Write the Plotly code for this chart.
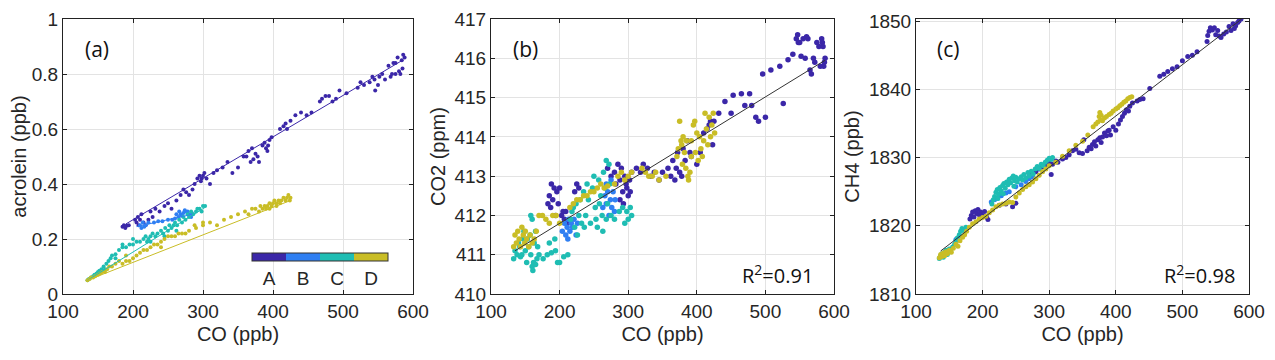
import plotly.graph_objects as go

# group colours (parula-like)
COL = {"A": "#3b27a8", "B": "#2f7ff2", "C": "#1fbdb3", "D": "#c9bd26"}
GROUPS = ["A", "B", "C", "D"]

X_TICKS = [100, 200, 300, 400, 500, 600]

# ---- panel (a): acrolein vs CO, (CO, acrolein) pairs
a_A = [(185, 0.245), (187, 0.25), (189, 0.24), (191, 0.248), (194, 0.25), (203, 0.27), (205, 0.26),
       (207, 0.28), (208, 0.25), (210, 0.27), (212, 0.29), (215, 0.26), (218, 0.25), (222, 0.27),
       (225, 0.3), (228, 0.28), (232, 0.31), (238, 0.3), (245, 0.32), (250, 0.33), (255, 0.31),
       (262, 0.34), (268, 0.36), (272, 0.38), (276, 0.37), (280, 0.36), (285, 0.38), (288, 0.4),
       (292, 0.42), (295, 0.43), (298, 0.42), (300, 0.43), (302, 0.44), (297, 0.41), (305, 0.42),
       (310, 0.4), (315, 0.44), (320, 0.45), (328, 0.46), (335, 0.48), (342, 0.44), (350, 0.46),
       (358, 0.5), (362, 0.5), (365, 0.52), (368, 0.48), (370, 0.53), (372, 0.49), (375, 0.51),
       (378, 0.5), (380, 0.48), (385, 0.54), (388, 0.55), (390, 0.53), (392, 0.52), (395, 0.56),
       (393, 0.54), (398, 0.57), (410, 0.6), (415, 0.61), (418, 0.62), (420, 0.6), (425, 0.63),
       (432, 0.65), (440, 0.66), (448, 0.65), (455, 0.66), (467, 0.7), (470, 0.71), (475, 0.72),
       (480, 0.72), (485, 0.7), (490, 0.71), (495, 0.74), (505, 0.73), (521, 0.75), (525, 0.77),
       (530, 0.76), (538, 0.77), (542, 0.79), (545, 0.78), (546, 0.74), (550, 0.76), (552, 0.79),
       (556, 0.8), (560, 0.78), (565, 0.83), (568, 0.79), (572, 0.84), (575, 0.8), (578, 0.86),
       (580, 0.81), (582, 0.8), (584, 0.85), (586, 0.87), (588, 0.86), (575, 0.84), (570, 0.8),
       (585, 0.82)]
a_B = [(210, 0.25), (212, 0.24), (214, 0.26), (216, 0.245), (218, 0.25), (222, 0.26), (230, 0.26),
       (236, 0.265), (242, 0.265), (250, 0.27), (256, 0.27), (260, 0.275), (265, 0.28), (268, 0.29),
       (272, 0.295), (275, 0.3), (278, 0.3), (280, 0.29), (274, 0.305), (266, 0.3), (262, 0.29),
       (284, 0.295), (283, 0.28), (270, 0.285)]
a_C = [(135, 0.05), (137, 0.055), (140, 0.06), (143, 0.065), (145, 0.07), (148, 0.075), (150, 0.08),
       (152, 0.085), (155, 0.09), (158, 0.1), (160, 0.09), (162, 0.11), (165, 0.12), (168, 0.13),
       (170, 0.14), (175, 0.145), (180, 0.16), (185, 0.17), (190, 0.17), (195, 0.18), (200, 0.18),
       (205, 0.19), (210, 0.19), (215, 0.2), (218, 0.21), (220, 0.19), (222, 0.2), (225, 0.21),
       (228, 0.22), (232, 0.21), (235, 0.22), (240, 0.23), (243, 0.22), (246, 0.24), (250, 0.23),
       (252, 0.25), (255, 0.24), (258, 0.25), (260, 0.26), (263, 0.25), (266, 0.27), (270, 0.26),
       (272, 0.28), (275, 0.27), (278, 0.29), (280, 0.28), (283, 0.3), (286, 0.29), (290, 0.3),
       (295, 0.31), (300, 0.32), (303, 0.32), (298, 0.3), (292, 0.31), (200, 0.2), (185, 0.18),
       (225, 0.19), (245, 0.21), (262, 0.23), (175, 0.13)]
a_D = [(135, 0.05), (138, 0.055), (140, 0.06), (143, 0.06), (146, 0.065), (150, 0.07), (153, 0.075),
       (156, 0.08), (160, 0.08), (163, 0.09), (166, 0.1), (170, 0.1), (175, 0.11), (180, 0.12),
       (185, 0.11), (190, 0.12), (195, 0.12), (200, 0.13), (205, 0.14), (210, 0.15), (215, 0.16),
       (220, 0.16), (225, 0.17), (230, 0.18), (235, 0.18), (240, 0.19), (245, 0.2), (250, 0.21),
       (255, 0.21), (260, 0.21), (265, 0.22), (270, 0.22), (275, 0.22), (280, 0.23), (290, 0.24),
       (300, 0.25), (310, 0.26), (320, 0.25), (330, 0.27), (340, 0.28), (350, 0.29), (360, 0.3),
       (365, 0.29), (370, 0.31), (375, 0.31), (380, 0.3), (382, 0.32), (385, 0.31), (388, 0.32),
       (390, 0.31), (392, 0.32), (395, 0.33), (398, 0.32), (400, 0.33), (402, 0.34), (405, 0.33),
       (408, 0.34), (410, 0.33), (412, 0.34), (415, 0.35), (418, 0.34), (420, 0.35), (422, 0.36),
       (424, 0.34), (425, 0.35), (405, 0.32), (395, 0.31), (300, 0.26), (288, 0.25), (240, 0.17),
       (190, 0.14)]
# per-group fit lines in (a): (co_start, co_end, y_start, y_end)
a_fit = {"A": (190, 585, 0.255, 0.85), "B": (205, 285, 0.245, 0.29),
         "C": (135, 303, 0.05, 0.315), "D": (135, 425, 0.05, 0.34)}

# ---- panel (b): CO2 vs CO
b_A = [(183, 412.3), (185, 412.5), (187, 412.2), (188, 412.8), (190, 412.4), (192, 412.7), (194, 412.0),
       (196, 412.6), (198, 412.3), (200, 412.7), (203, 412.0), (205, 412.1), (207, 411.9), (209, 412.1),
       (211, 411.8), (222, 412.6), (225, 412.8), (228, 412.7), (270, 413.2), (275, 413.0), (280, 413.1),
       (282, 412.8), (285, 413.3), (288, 412.9), (290, 413.2), (292, 412.6), (295, 413.0), (298, 412.7),
       (300, 412.5), (302, 412.9), (305, 413.1), (288, 412.4), (293, 412.3), (297, 412.8), (303, 412.6),
       (312, 413.2), (318, 413.1), (322, 413.3), (328, 413.2), (333, 413.0), (338, 413.1), (345, 412.9),
       (350, 413.1), (358, 413.2), (362, 413.0), (365, 413.4), (368, 412.9), (370, 413.2), (372, 413.6),
       (375, 413.1), (378, 413.0), (380, 413.7), (383, 413.4), (386, 413.9), (390, 413.6), (392, 413.5),
       (400, 413.3), (405, 413.6), (410, 414.1), (415, 414.2), (418, 414.3), (420, 414.4), (423, 413.8),
       (425, 414.4), (432, 414.6), (441, 414.9), (450, 414.6), (453, 415.06), (465, 415.1), (470, 414.8),
       (477, 415.1), (480, 414.8), (486, 414.5), (490, 414.4), (500, 414.5), (496, 415.6), (508, 415.7),
       (521, 415.8), (526, 414.85), (533, 415.96), (540, 416.1), (545, 416.5), (547, 416.6), (550, 416.4),
       (552, 416.05), (555, 416.5), (558, 416.0), (562, 416.5), (565, 415.7), (567, 415.6), (570, 416.0),
       (572, 415.9), (575, 416.4), (578, 416.3), (580, 415.8), (582, 416.5), (583, 416.4), (585, 415.8),
       (586, 415.9), (587, 416.0), (584, 416.3), (548, 416.4), (560, 416.55)]
b_B = [(204, 411.6), (207, 411.8), (209, 411.5), (211, 411.7), (213, 411.9), (215, 411.6), (217, 411.8),
       (219, 411.7), (221, 411.9), (224, 411.5), (212, 411.4), (226, 411.8), (263, 412.2), (266, 412.5),
       (268, 412.3), (270, 412.6), (272, 412.0), (274, 412.4), (276, 412.2), (278, 412.6), (280, 412.1),
       (281, 412.4), (268, 412.8), (275, 412.9)]
b_C = [(133, 410.9), (135, 411.1), (138, 411.0), (140, 411.3), (142, 411.2), (145, 411.0), (147, 411.4),
       (150, 411.1), (152, 410.8), (155, 411.2), (157, 411.5), (158, 411.0), (160, 410.7), (162, 410.8),
       (163, 411.3), (165, 411.6), (167, 410.9), (168, 411.2), (160, 411.9), (158, 412.0), (161, 410.6),
       (148, 411.6), (143, 410.95), (153, 411.4), (165, 410.75), (170, 411.0), (176, 410.9), (182, 411.0),
       (188, 411.05), (194, 411.1), (197, 410.8), (200, 410.8), (206, 410.95), (212, 411.0), (193, 411.4),
       (185, 411.3), (216, 411.9), (218, 412.1), (220, 412.2), (222, 411.7), (224, 412.3), (226, 411.5),
       (228, 412.0), (230, 412.4), (232, 411.8), (235, 412.6), (238, 412.0), (240, 412.8), (242, 412.4),
       (245, 411.8), (248, 412.7), (250, 413.0), (252, 412.2), (255, 411.7), (257, 412.9), (260, 412.5),
       (262, 412.0), (264, 413.1), (266, 412.7), (268, 413.4), (270, 412.3), (272, 413.3), (273, 412.8),
       (258, 412.3), (253, 411.9), (236, 411.7), (263, 411.6), (268, 411.9), (275, 412.0), (292, 412.2),
       (295, 411.8), (298, 412.1), (300, 411.9), (303, 412.2), (305, 412.0), (287, 412.1), (280, 411.9)]
b_D = [(133, 411.2), (135, 411.5), (137, 411.3), (139, 411.6), (141, 411.4), (143, 411.2), (145, 411.7),
       (147, 411.5), (149, 411.3), (150, 411.6), (152, 411.4), (155, 411.2), (157, 411.5), (160, 411.3),
       (163, 411.4), (166, 411.6), (170, 412.0), (175, 412.0), (180, 411.9), (185, 411.8), (190, 412.0),
       (195, 412.0), (200, 411.8), (215, 412.2), (220, 412.3), (225, 412.4), (230, 412.4), (235, 412.5),
       (240, 412.5), (245, 412.6), (250, 412.6), (255, 412.7), (260, 412.8), (265, 412.7), (270, 412.75),
       (280, 412.8), (285, 413.0), (290, 413.1), (295, 412.9), (300, 413.0), (305, 413.1), (320, 413.2),
       (325, 413.1), (330, 413.0), (335, 413.0), (340, 413.1), (345, 412.9), (355, 413.0), (371, 413.5),
       (373, 413.7), (375, 414.4), (377, 413.9), (379, 413.3), (380, 414.0), (382, 413.6), (384, 413.2),
       (385, 413.9), (387, 413.0), (388, 412.9), (390, 413.1), (392, 413.5), (395, 414.3), (397, 414.4),
       (398, 413.6), (400, 414.1), (402, 413.4), (404, 414.0), (406, 413.7), (408, 413.5), (410, 413.9),
       (412, 414.6), (414, 414.2), (416, 413.8), (418, 414.5), (420, 414.0), (422, 414.3), (424, 414.6),
       (426, 414.1), (378, 413.8), (392, 413.9)]
b_fit = (135, 587, 411.1, 415.95)

# ---- panel (c): CH4 vs CO
c_A = [(181, 1821.0), (183, 1821.5), (185, 1822.0), (187, 1821.3), (189, 1822.2), (191, 1821.8),
       (193, 1822.4), (195, 1821.6), (197, 1822.0), (200, 1821.5), (203, 1822.1), (206, 1821.3),
       (208, 1820.9), (225, 1823.0), (235, 1823.2), (245, 1822.8), (250, 1823.3), (265, 1826.8),
       (270, 1827.3), (275, 1827.6), (280, 1827.9), (285, 1828.3), (290, 1828.6), (295, 1828.9),
       (300, 1829.2), (305, 1829.0), (303, 1827.5), (310, 1829.5), (313, 1829.3), (320, 1829.8),
       (325, 1830.0), (330, 1830.4), (335, 1831.0), (340, 1831.2), (345, 1830.7), (350, 1830.6),
       (352, 1832.6), (357, 1831.0), (360, 1831.5), (363, 1831.3), (365, 1831.9), (368, 1832.3),
       (370, 1831.7), (373, 1832.6), (376, 1832.9), (378, 1832.2), (380, 1833.0), (383, 1833.6),
       (386, 1833.2), (388, 1833.9), (390, 1834.0), (392, 1833.3), (396, 1834.5), (400, 1834.0),
       (404, 1834.9), (407, 1835.5), (410, 1836.0), (413, 1836.5), (416, 1837.0), (419, 1836.8),
       (421, 1837.5), (425, 1838.0), (432, 1838.3), (436, 1838.5), (441, 1838.6), (451, 1840.1),
       (466, 1841.9), (472, 1842.2), (478, 1842.6), (485, 1843.0), (492, 1843.3), (500, 1844.2),
       (508, 1844.8), (515, 1845.0), (522, 1845.5), (537, 1847.0), (538, 1847.9), (540, 1848.5),
       (542, 1849.0), (545, 1848.7), (548, 1849.0), (550, 1848.0), (553, 1848.6), (555, 1847.8),
       (558, 1847.6), (562, 1848.1), (566, 1848.4), (570, 1849.2), (573, 1848.6), (576, 1849.6),
       (580, 1849.3), (583, 1849.8), (585, 1850.0), (588, 1850.3), (578, 1848.9)]
c_B = [(213, 1823.5), (218, 1823.8), (222, 1824.0), (228, 1824.4), (235, 1824.8), (240, 1825.0),
       (250, 1825.7), (258, 1826.0), (265, 1826.5), (270, 1826.9), (275, 1827.2), (160, 1818.0),
       (165, 1818.5)]
c_C = [(135, 1815.2), (137, 1815.6), (139, 1815.9), (141, 1815.4), (143, 1816.1), (145, 1816.4),
       (147, 1815.8), (150, 1816.6), (152, 1816.2), (155, 1816.9), (158, 1817.3), (160, 1817.8),
       (162, 1818.2), (165, 1818.7), (167, 1819.2), (169, 1819.6), (172, 1819.3), (175, 1819.8),
       (214, 1823.2), (216, 1823.8), (218, 1824.3), (220, 1824.9), (222, 1825.3), (224, 1824.6),
       (226, 1825.6), (228, 1825.1), (230, 1825.9), (232, 1826.2), (234, 1825.5), (236, 1826.4),
       (238, 1826.0), (240, 1826.8), (242, 1826.3), (244, 1827.0), (246, 1827.3), (248, 1826.6),
       (250, 1827.1), (252, 1826.4), (255, 1826.9), (258, 1827.2), (260, 1826.7), (262, 1827.5),
       (265, 1827.0), (268, 1827.8), (270, 1827.3), (273, 1828.0), (276, 1827.6), (279, 1828.3),
       (282, 1828.7), (285, 1828.4), (288, 1829.0), (291, 1828.8), (294, 1829.3), (297, 1829.6),
       (300, 1829.9), (303, 1829.7), (305, 1830.0), (223, 1824.0), (231, 1824.7), (247, 1825.8)]
c_D = [(135, 1815.3), (137, 1815.8), (139, 1815.5), (141, 1816.0), (143, 1815.6), (145, 1816.2),
       (147, 1815.9), (150, 1816.4), (153, 1816.1), (156, 1816.7), (160, 1817.3), (163, 1817.0),
       (166, 1817.8), (170, 1818.3), (173, 1818.7), (176, 1819.2), (180, 1819.8), (185, 1820.3),
       (190, 1820.6), (195, 1821.0), (200, 1821.2), (205, 1821.4), (210, 1821.9), (215, 1822.3),
       (220, 1822.8), (225, 1823.0), (230, 1823.2), (235, 1823.3), (240, 1823.5), (245, 1823.4),
       (250, 1824.2), (255, 1824.8), (260, 1825.3), (265, 1825.7), (270, 1826.0), (275, 1826.4),
       (280, 1826.9), (285, 1827.4), (290, 1827.9), (295, 1828.3), (300, 1828.8), (310, 1829.3),
       (320, 1830.2), (330, 1831.0), (340, 1831.8), (350, 1832.4), (358, 1833.3), (366, 1834.5),
       (370, 1834.9), (373, 1835.2), (375, 1836.0), (376, 1836.6), (377, 1835.5), (378, 1836.2),
       (380, 1835.4), (383, 1835.8), (386, 1836.0), (390, 1836.3), (393, 1836.5), (396, 1836.8),
       (400, 1837.1), (403, 1837.3), (406, 1837.6), (409, 1837.8), (412, 1838.1), (415, 1838.3),
       (418, 1838.6), (421, 1838.8), (424, 1838.9)]
c_fit = (137, 589, 1816.3, 1850.3)

PANELS = [
    dict(data={"A": a_A, "B": a_B, "C": a_C, "D": a_D}, size=4, ytitle="acrolein (ppb)",
         yrange=[0, 1], dtick=0.2, label="(a)", r2=None, r2x=None),
    dict(data={"A": b_A, "B": b_B, "C": b_C, "D": b_D}, size=5.5, ytitle="CO2 (ppm)",
         yrange=[410, 417], dtick=1, label="(b)", r2="0.91", r2x=0.945),
    dict(data={"A": c_A, "B": c_B, "C": c_C, "D": c_D}, size=5, ytitle="CH4 (ppb)",
         yrange=[1810, 1850.3], dtick=10, label="(c)", r2="0.98", r2x=0.965),
]

W, H = 1275, 360
OFF = 8  # page body margin
XDOM = [(63 - OFF, 413 - OFF), (491 - OFF, 834 - OFF), (916 - OFF, 1249 - OFF)]
YDOM = (19 - OFF, 294 - OFF)

TXT = "#262626"
FONT = "Liberation Sans, Arial, sans-serif"
LFONT = "Open Sans, Noto Sans, sans-serif"

fig = go.Figure()

for i, p in enumerate(PANELS):
    n = "" if i == 0 else str(i + 1)
    xa, ya = "x" + n, "y" + n
    for g in GROUPS:
        pts = p["data"][g]
        fig.add_trace(go.Scatter(
            x=[q[0] for q in pts], y=[q[1] for q in pts], mode="markers",
            marker=dict(color=COL[g], size=p["size"], line=dict(width=0)),
            xaxis=xa, yaxis=ya, showlegend=False, hoverinfo="skip"))
    # fit lines
    if i == 0:
        for g in GROUPS:
            x0, x1, y0, y1 = a_fit[g]
            fig.add_trace(go.Scatter(x=[x0, x1], y=[y0, y1], mode="lines",
                                     line=dict(color=COL[g], width=1),
                                     xaxis=xa, yaxis=ya, showlegend=False))
    else:
        x0, x1, y0, y1 = b_fit if i == 1 else c_fit
        fig.add_trace(go.Scatter(x=[x0, x1], y=[y0, y1], mode="lines",
                                 line=dict(color="#333333", width=1),
                                 xaxis=xa, yaxis=ya, showlegend=False))

    ax = dict(domain=[XDOM[i][0] / W, XDOM[i][1] / W], range=[100, 600], tickvals=X_TICKS,
              anchor=ya, showline=True, linecolor="#222", linewidth=1, mirror="ticks",
              ticks="inside", ticklen=4, tickcolor="#222", showgrid=True, gridcolor="#e3e3e3",
              zeroline=False, automargin=False, tickfont=dict(size=19, color=TXT, family=FONT),
              title=dict(text="CO (ppb)", font=dict(size=20, color=TXT, family=FONT), standoff=6))
    ay = dict(domain=[1 - YDOM[1] / H, 1 - YDOM[0] / H], range=p["yrange"], dtick=p["dtick"],
              anchor=xa, showline=True, linecolor="#222", linewidth=1, mirror="ticks",
              ticks="inside", ticklen=4, tickcolor="#222", showgrid=True, gridcolor="#e3e3e3",
              zeroline=False, automargin=False, tickfont=dict(size=19, color=TXT, family=FONT),
              title=dict(text=p["ytitle"], font=dict(size=20, color=TXT, family=FONT), standoff=3))
    fig.layout["xaxis" + n] = ax
    fig.layout["yaxis" + n] = ay

    fig.add_annotation(xref=xa + " domain", yref=ya + " domain", x=0.057, y=0.89,
                       text=p["label"], showarrow=False, xanchor="left", yanchor="middle",
                       font=dict(size=21, color="#111", family=LFONT))
    if p["r2"]:
        fig.add_annotation(xref=xa + " domain", yref=ya + " domain", x=p["r2x"], y=0.07,
                           text="R<sup>2</sup>=" + p["r2"], showarrow=False, xanchor="right",
                           yanchor="middle", font=dict(size=20, color="#111", family=LFONT))

# discrete colour key A-D in panel (a)
cs = []
for k, g in enumerate(GROUPS):
    cs += [[k / 4, COL[g]], [(k + 1) / 4, COL[g]]]
fig.add_trace(go.Scatter(
    x=[None], y=[None], mode="markers", xaxis="x", yaxis="y", showlegend=False,
    marker=dict(color=[0], cmin=0, cmax=4, colorscale=cs, showscale=True,
                colorbar=dict(orientation="h", x=(320 - OFF) / W, xanchor="center",
                              y=1 - (253 - OFF) / H, yanchor="top", len=136, lenmode="pixels",
                              thickness=8, thicknessmode="pixels", xpad=0, ypad=0,
                              tickvals=[0.5, 1.5, 2.5, 3.5], ticktext=GROUPS, ticks="",
                              outlinecolor="#333", outlinewidth=1,
                              tickfont=dict(size=19, color=TXT, family=FONT)))))

fig.update_layout(width=W, height=H, margin=dict(l=0, r=0, t=0, b=0, autoexpand=False),
                  paper_bgcolor="white", plot_bgcolor="white")

fig.write_html("out.html")
